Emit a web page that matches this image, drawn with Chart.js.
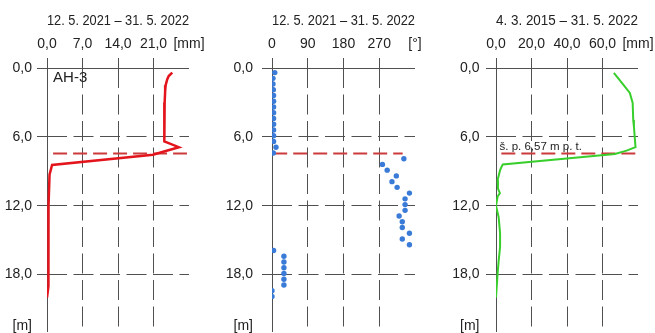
<!DOCTYPE html>
<html><head><meta charset="utf-8">
<script src="https://cdn.jsdelivr.net/npm/chart.js@4.4.1/dist/chart.umd.min.js"></script>
<style>
html,body{margin:0;padding:0;background:#fff;}
#wrap{position:relative;width:655px;height:333px;overflow:hidden;background:#fff;}
canvas{position:absolute;left:0;top:0;}
</style></head><body>
<div id="wrap">
<canvas id="c1" width="655" height="333"></canvas>
<canvas id="c2" width="655" height="333"></canvas>
<canvas id="c3" width="655" height="333"></canvas>
</div>
<script>
// ---------- data ----------
const depthTickValues = [0, 6, 12, 18, 22.5];
const depthTickLabels = ['0,0', '6,0', '12,0', '18,0', '[m]'];
const boreholeName = 'AH-3';
const waterLevelDepth = 7.45;
const waterLevelLabel = 'š. p. 6,57 m p. t.';

// panel 1 – displacement [mm]
const title1 = '12. 5. 2021 – 31. 5. 2022';
const tickValues1 = [0, 7, 14, 21, 28];
const tickLabels1 = ['0,0', '7,0', '14,0', '21,0', '[mm]'];
const depth1 = [0.4, 0.7, 1.0, 1.5, 2.0, 3.0, 4.0, 5.0, 6.4, 6.9, 7.3, 7.55, 8.45, 9.3, 12.0, 15.0, 18.0, 19.0, 20.0];
const displacement1 = [24.7, 24.0, 23.7, 23.4, 23.3, 23.2, 23.2, 23.1, 23.1, 26.0, 22.9, 20.9, 1.0, 0.5, 0.3, 0.3, 0.35, 0.2, 0.0];
const waterX1 = [1.2, 27.6];

// panel 2 – direction [°]
const title2 = '12. 5. 2021 – 31. 5. 2022';
const tickValues2 = [0, 90, 180, 270, 360];
const tickLabels2 = ['0', '90', '180', '270', '[°]'];
const depth2 = [0.4, 0.9, 1.4, 1.9, 2.4, 2.9, 3.4, 3.9, 4.4, 4.9, 5.4, 5.9, 6.4, 6.9, 7.4,
                7.9, 8.4, 8.9, 9.4, 9.9, 10.4, 10.9, 11.4, 11.9, 12.4, 12.9, 13.4, 13.9, 14.4, 14.9, 15.4,
                15.9, 16.4, 16.9, 17.4, 17.9, 18.4, 18.9, 19.4, 19.9];
const direction2 = [7, 2.5, 2.5, 3.4, 4, 4, 4, 4, 4, 4, 4, 4, 4, 10, 3.4,
                    332, 278, 290, 313, 302, 315, 346, 335, 335, 335, 320, 328, 328, 346, 328, 346,
                    4, 30, 30, 30, 30, 30, 30, 0, 0];
const waterX2 = [3, 329];

// panel 3 – cumulative displacement [mm]
const title3 = '4. 3. 2015 – 31. 5. 2022';
const tickValues3 = [0, 20, 40, 60, 80];
const tickLabels3 = ['0,0', '20,0', '40,0', '60,0', '[mm]'];
const depth3 = [0.42, 1.44, 2.17, 3.05, 4.5, 5.1, 6.9, 7.2, 7.49, 8.4, 8.9, 9.76, 10.5, 10.9, 11.2, 12.0, 13.0, 14.4, 15.6, 16.8, 17.9, 20.0];
const displacement3 = [66.4, 71.7, 75.4, 77.0, 77.3, 77.7, 78.6, 73.6, 67.0, 3.8, 2.3, 0.9, 1.1, 2.2, 0.9, 0.0, 1.5, 2.3, 2.3, 1.5, 0.9, 0.0];
const waterX3 = [3, 79];

// ---------- drawing ----------
const FONT = "'Liberation Sans Narrow', 'Arial Narrow', 'Liberation Sans', Arial, sans-serif";
Chart.defaults.font.family = FONT;
Chart.defaults.color = '#222';

const LINE = '#505050';
const NONE = 'rgba(0,0,0,0)';
const WATER = '#cc3b3b';

const textPlugin = {
  id: 'annot',
  afterDatasetsDraw(chart, args, opts) {
    const {ctx} = chart;
    const x = chart.scales.x, y = chart.scales.y;
    (opts.items || []).forEach(it => {
      ctx.save();
      ctx.font = it.font;
      ctx.fillStyle = '#222';
      ctx.textBaseline = 'middle';
      ctx.textAlign = 'left';
      ctx.fillText(it.text, x.getPixelForValue(it.x), y.getPixelForValue(it.y));
      ctx.restore();
    });
  }
};

function gridColor(ticks) {
  return c => (c.tick && c.tick.value === ticks[ticks.length - 1]) ? NONE : LINE;
}
function gridDash(c) {
  return (c.tick && c.tick.value === 0) ? [] : [20, 6.5];
}
function pts(xs, ys) { return ys.map((d, i) => ({x: xs[i], y: d})); }

function makeChart(id, cfg) {
  return new Chart(document.getElementById(id), {
    type: 'scatter',
    data: {datasets: cfg.datasets},
    options: {
      responsive: false, animation: false, devicePixelRatio: 1,
      layout: {autoPadding: false, padding: {left: 0, right: cfg.padRight, top: 0, bottom: 1}},
      plugins: {legend: {display: false}, tooltip: {enabled: false}, annot: {items: cfg.notes || []}},
      scales: {
        x: {
          type: 'linear', position: 'top', min: cfg.xTicks[0], max: cfg.xTicks[cfg.xTicks.length - 1],
          afterBuildTicks: s => { s.ticks = cfg.xTicks.map(v => ({value: v})); },
          afterFit: s => { s.height = 68; s.paddingLeft = 0; s.paddingRight = 0; },
          ticks: {autoSkip: false, maxRotation: 0, padding: 5, font: {size: 14}, callback: (v, i) => cfg.xLabels[i]},
          grid: {color: gridColor(cfg.xTicks), lineWidth: 1, tickLength: 10},
          border: {display: false, dash: gridDash},
          title: {display: true, text: cfg.title, align: 'start', font: {size: 14.5}, padding: {top: 12, bottom: 0}}
        },
        y: {
          type: 'linear', position: 'left', reverse: true, min: 0, max: 23,
          afterBuildTicks: s => { s.ticks = depthTickValues.map(v => ({value: v})); },
          afterFit: s => { s.width = cfg.left; s.paddingTop = 0; s.paddingBottom = 0; },
          ticks: {autoSkip: false, padding: cfg.yPad, font: {size: 14}, callback: (v, i) => depthTickLabels[i]},
          grid: {color: gridColor(depthTickValues), lineWidth: 1, tickLength: 10},
          border: {display: false, dash: gridDash}
        }
      }
    },
    plugins: [textPlugin]
  });
}

function waterSet(xs) {
  return {data: [{x: xs[0], y: waterLevelDepth}, {x: xs[1], y: waterLevelDepth}], showLine: true,
          borderColor: WATER, borderWidth: 2, borderDash: [14, 6], pointRadius: 0, order: 2};
}

makeChart('c1', {
  left: 47, padRight: 466, yPad: 5, title: title1, xTicks: tickValues1, xLabels: tickLabels1,
  datasets: [
    {data: pts(displacement1, depth1), showLine: true, borderColor: '#e3141b', borderWidth: 2.5, pointRadius: 0, tension: 0, order: 0},
    waterSet(waterX1)
  ],
  notes: [{text: boreholeName, x: 1.2, y: 0.83, font: "15px " + FONT}]
});

makeChart('c2', {
  left: 272, padRight: 240, yPad: 9, title: title2, xTicks: tickValues2, xLabels: tickLabels2,
  datasets: [
    {data: pts(direction2, depth2), showLine: false, pointRadius: 2.7, pointBackgroundColor: '#3a7bd8', pointBorderWidth: 0, order: 0},
    waterSet(waterX2)
  ]
});

makeChart('c3', {
  left: 496, padRight: 17, yPad: 6.5, title: title3, xTicks: tickValues3, xLabels: tickLabels3,
  datasets: [
    {data: pts(displacement3, depth3), showLine: true, borderColor: '#38cf2c', borderWidth: 2, pointRadius: 0, tension: 0, order: 0},
    waterSet(waterX3)
  ],
  notes: [{text: waterLevelLabel, x: 2.0, y: 6.85, font: "11.5px " + FONT}]
});
</script>
</body></html>
